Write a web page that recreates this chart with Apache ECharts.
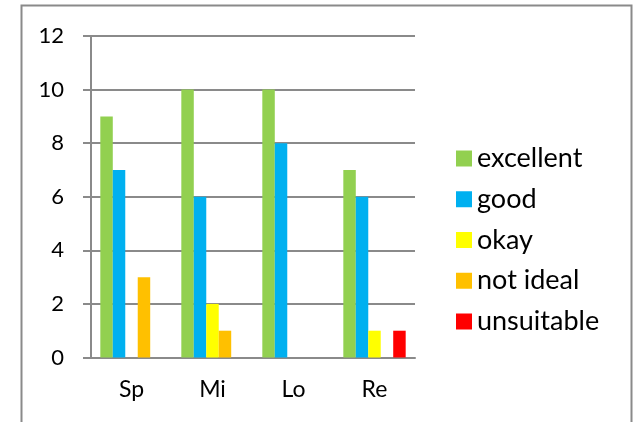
<!DOCTYPE html>
<html>
<head>
<meta charset="utf-8">
<script src="https://cdn.jsdelivr.net/npm/echarts@6/dist/echarts.min.js"></script>
<style>
  html, body { margin: 0; padding: 0; background: #fff; }
  #main { width: 634px; height: 422px; }
</style>
</head>
<body>
<div id="main"></div>
<script>
// categories and values
const categories = ['Sp', 'Mi', 'Lo', 'Re']
const excellent = [9, 10, 10, 7]
const good = [7, 6, 8, 6]
const okay = [0, 2, 0, 1]
const notIdeal = [3, 1, 0, 0]
const unsuitable = [0, 0, 0, 1]
const yTicks = [0, 2, 4, 6, 8, 10, 12]

const seriesNames = ['excellent', 'good', 'okay', 'not ideal', 'unsuitable']
const seriesData = [excellent, good, okay, notIdeal, unsuitable]
const colors = ['#92D050', '#00B0F0', '#FFFF00', '#FFC000', '#FF0000']

const font = 'Lato'
const gray = '#8a8a8a'

let chart = echarts.init(document.getElementById('main'))

let option = {
    animation: false,
    color: colors,
    graphic: [{
        type: 'rect',
        shape: { x: 21.5, y: 5.5, width: 610, height: 440 },
        style: { fill: 'none', stroke: gray, lineWidth: 2 },
        silent: true
    }],
    grid: {
        left: 91,
        right: 219,
        top: 36,
        bottom: 64.5
    },
    legend: {
        orient: 'vertical',
        left: 451,
        top: 140,
        itemWidth: 16,
        itemHeight: 16,
        itemGap: 13.75,
        icon: 'rect',
        textStyle: {
            fontFamily: font,
            fontSize: 27,
            lineHeight: 27,
            color: '#000'
        },
        data: seriesNames
    },
    xAxis: {
        type: 'category',
        data: categories,
        axisLine: { lineStyle: { color: gray, width: 2 } },
        axisTick: { length: 8, lineStyle: { color: gray, width: 2 } },
        axisLabel: {
            margin: 21,
            fontFamily: font,
            fontSize: 23,
            color: '#000'
        }
    },
    yAxis: {
        type: 'value',
        min: yTicks[0],
        max: yTicks[yTicks.length - 1],
        interval: 2,
        axisLine: { show: true, lineStyle: { color: gray, width: 2 } },
        axisTick: { show: true, length: 8, lineStyle: { color: gray, width: 2 } },
        splitLine: { lineStyle: { color: gray, width: 2 } },
        axisLabel: {
            margin: 27,
            fontFamily: font,
            fontSize: 22,
            color: '#000'
        }
    },
    series: []
}

for (let i = 0; i < seriesNames.length; i++) {
    option.series.push({
        name: seriesNames[i],
        type: 'bar',
        data: seriesData[i],
        barGap: '0%',
        barCategoryGap: '23%'
    })
}

chart.setOption(option)
</script>
</body>
</html>
